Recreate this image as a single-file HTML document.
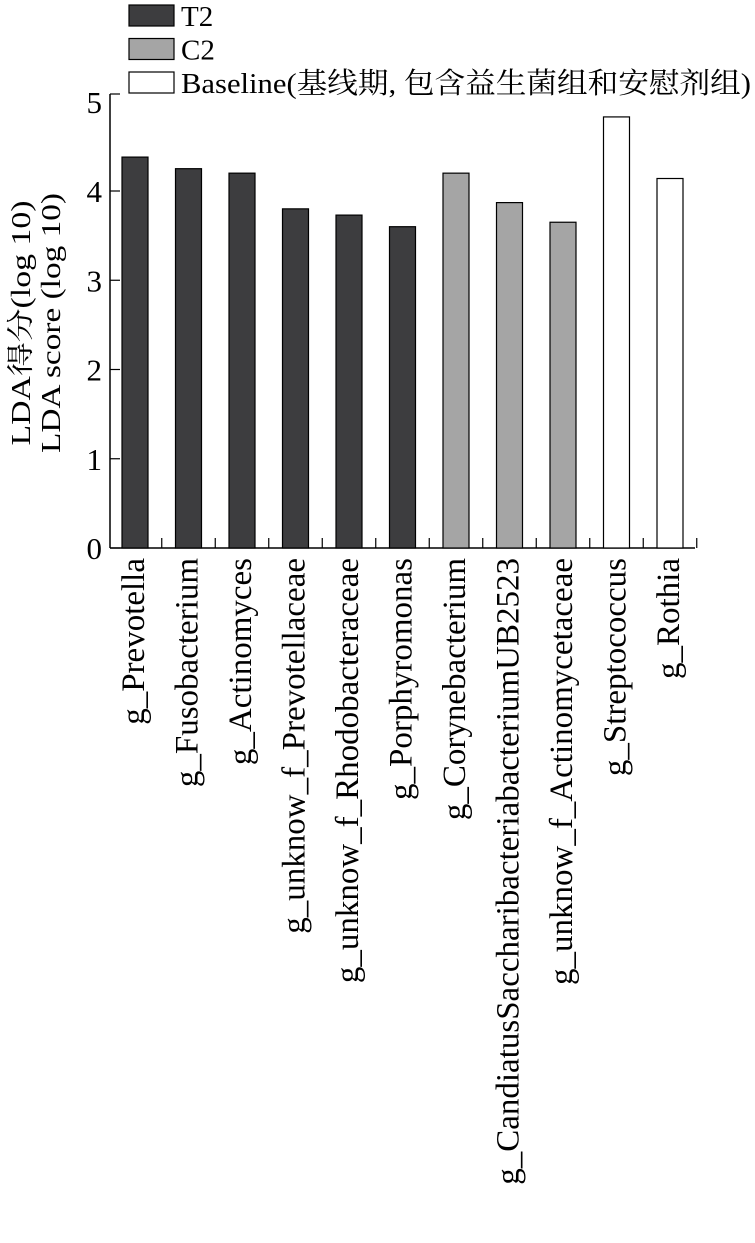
<!DOCTYPE html>
<html><head><meta charset="utf-8"><style>
body{margin:0;background:#fff}
svg text{font-family:"Liberation Serif","Noto Serif CJK SC",serif;fill:#000}
</style></head><body>
<svg width="755" height="1238" xmlns="http://www.w3.org/2000/svg">
<g id="legend"></g>
<g id="axes"></g>
<g id="bars"></g>
<g id="labels"></g>
<text transform="translate(30,323) rotate(-90)" text-anchor="middle" font-size="27" textLength="245" lengthAdjust="spacingAndGlyphs">LDA得分(log 10)</text>
<text transform="translate(60,323) rotate(-90)" text-anchor="middle" font-size="27" textLength="260" lengthAdjust="spacingAndGlyphs">LDA score (log 10)</text>
</svg>
<script>
const categories=["g_Prevotella","g_Fusobacterium","g_Actinomyces","g_unknow_f_Prevotellaceae","g_unknow_f_Rhodobacteraceae","g_Porphyromonas","g_Corynebacterium","g_CandiatusSaccharibacteriabacteriumUB2523","g_unknow_f_Actinomycetaceae","g_Streptococcus","g_Rothia"];
const values=[4.38,4.25,4.20,3.80,3.73,3.60,4.20,3.87,3.65,4.83,4.14];
const groups=["T2","T2","T2","T2","T2","T2","C2","C2","C2","Baseline","Baseline"];
const yTicks=[0,1,2,3,4,5];
const legendLabels=["T2","C2","Baseline(基线期, 包含益生菌组和安慰剂组)"];
const colors={"T2":"#3d3d3f","C2":"#a5a5a5","Baseline":"#ffffff"};
const NS="http://www.w3.org/2000/svg";
function mk(t,a,p){const e=document.createElementNS(NS,t);for(const k in a)e.setAttribute(k,a[k]);p.appendChild(e);return e;}
const y0=548,unit=89.25,x0=110,step=53.5,first=135,bw=26;
const yS=v=>y0-v*unit, xS=i=>first+i*step;
const axes=document.getElementById('axes');
let l=mk('line',{x1:x0,y1:94,x2:x0,y2:y0,stroke:'#000','stroke-width':1.5},axes);

l=mk('line',{x1:x0,y1:y0,x2:695,y2:y0,stroke:'#000','stroke-width':1.5},axes);

yTicks.forEach(v=>{const y=v==5?94:yS(v);
 const t=mk('line',{x1:x0,y1:y,x2:x0+10,y2:y,stroke:'#000','stroke-width':1.2},axes);
 
 const tx=mk('text',{x:102,y:yS(v)+11,'text-anchor':'end','font-size':31},axes);tx.textContent=v;
 });
for(let i=0;i<categories.length;i++){const x=xS(i)+step/2;
 const t=mk('line',{x1:x,y1:y0,x2:x,y2:y0-10,stroke:'#000','stroke-width':1.2},axes);
 }
const bars=document.getElementById('bars'),labels=document.getElementById('labels');
categories.forEach((c,i)=>{
 const r=mk('rect',{x:xS(i)-bw/2,y:yS(values[i]),width:bw,height:values[i]*unit,fill:colors[groups[i]],stroke:'#000','stroke-width':1.2},bars);
 
 const t=mk('text',{transform:`translate(${xS(i)+9},558) rotate(-90)`,'text-anchor':'end','font-size':33},labels);t.textContent=c;
 });
const lg=document.getElementById('legend');
legendLabels.forEach((s,i)=>{const y=5+i*33.5;const g=["T2","C2","Baseline"][i];
 const r=mk('rect',{x:129,y:y,width:45,height:21,fill:colors[g],stroke:'#000','stroke-width':1.2},lg);
 
 const t=mk('text',{x:181,y:y+21,'font-size':29},lg);t.textContent=s;
 if(i==2){t.setAttribute('textLength','570');t.setAttribute('lengthAdjust','spacingAndGlyphs');}
 });
</script>
</body></html>
